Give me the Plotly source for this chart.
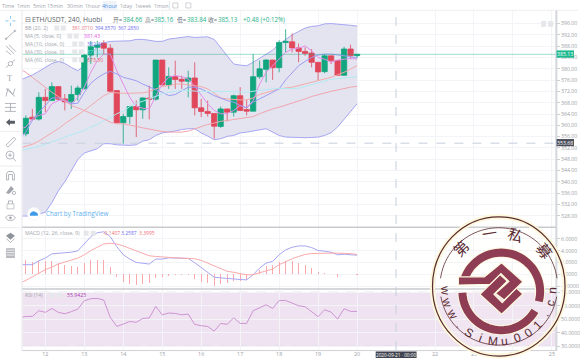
import math
import plotly.graph_objects as go

W, H = 580, 363
# ---------- data (first entry sits just left of the visible pane) ----------
opens = [358.0,357.0,362.9,362.2,369.9,368.75,373.7,369.35,368.3,370.9,372.9,384.85,387.6,388.96,387.3,372.3,360.9,363.1,366.65,365.5,369.6,369.25,383.1,374.3,377.3,376.3,375.6,376.75,366.2,364.9,364.2,359.6,365.8,364.65,370.5,365.6,365.0,377.2,379.8,383.1,380.4,389.3,389.55,387.4,386.15,385.56,382.3,379.0,384.6,382.9,377.7,387.0,384.66]
highs = [359.0,363.5,365.8,371.7,372.9,375.2,373.7,371.1,374.05,374.05,385.2,389.9,389.9,390.1,388.7,372.3,364.1,366.65,368.8,369.9,374.05,383.1,383.1,380.5,382.9,377.6,379.3,382.3,369.35,368.75,364.2,366.65,365.8,370.9,373.5,369.0,385.2,382.9,383.4,383.1,390.1,394.0,392.5,388.96,387.6,387.0,382.3,385.2,384.6,382.9,387.8,388.5,385.16]
lows = [356.0,356.1,361.7,361.7,364.65,368.75,368.75,365.25,365.8,368.75,372.9,381.7,384.0,385.2,371.7,360.9,353.5,360.55,355.85,362.3,362.1,368.75,374.05,372.9,372.9,372.9,369.9,363.5,362.9,363.1,355.25,359.1,361.4,363.1,365.0,363.5,365.0,376.4,375.2,376.05,378.75,385.8,385.8,382.3,384.6,380.5,375.8,378.4,381.7,377.6,377.6,383.4,383.84]
closes = [357.0,362.5,362.2,369.9,368.75,373.7,369.25,368.3,370.9,373.2,384.85,387.8,388.4,387.3,372.05,360.9,363.1,366.65,365.5,369.7,369.25,383.1,374.3,377.3,376.2,375.6,376.75,366.2,364.9,364.2,359.7,365.8,364.65,370.5,365.25,365.0,377.2,380.0,383.1,380.4,389.3,389.7,387.4,386.15,385.44,382.3,378.9,384.6,382.9,377.7,387.0,384.6,385.13]

bb_upper = [375.9,376.9,377.8,379.1,380.5,381.9,382.6,381.9,380.5,379.3,381.1,385.2,387.8,389.2,389.7,389.8,389.9,389.9,390.4,390.4,390.1,389.7,389.7,390.5,390.8,391.1,391.4,391.1,391.3,391.3,390.4,387.6,384.6,381.7,381.3,381.1,382.3,383.8,385.2,386.6,388.7,390.3,392.0,393.2,394.4,395.0,395.2,395.9,396.0,395.8,395.7,395.4,395.1]
bb_lower = [327.9,327.9,327.9,328.6,329.2,332.6,336.8,340.0,343.7,347.9,350.2,350.9,351.7,353.5,353.5,353.1,352.9,352.9,353.1,354.4,354.9,356.4,357.3,357.6,358.0,358.5,358.8,358.8,357.3,356.2,354.9,355.25,356.1,356.4,357.3,357.6,358.1,358.4,358.8,357.6,356.4,355.85,355.7,355.6,355.6,355.7,355.85,356.4,357.4,359.4,362.1,364.65,367.6]
bb_basis = [351.9,352.55,353.3,354.4,355.85,357.25,358.8,360.55,362.1,363.5,365.25,367.0,368.75,370.5,371.6,371.35,371.35,371.35,371.35,371.5,371.95,372.9,373.7,374.05,374.6,374.6,374.4,374.05,373.7,372.9,371.35,369.7,369.35,369.1,369.0,369.0,369.7,370.9,371.7,372.3,372.9,373.1,373.5,374.05,374.6,375.2,375.8,376.4,377.0,377.9,378.75,379.9,381.1]
ma5 = [358.5,359.4,362.3,363.5,364.1,367.6,368.75,369.0,367.6,369.9,373.5,378.75,382.9,385.2,385.2,379.3,374.6,369.9,366.65,366.05,365.8,370.5,374.6,377.0,377.6,377.2,376.4,373.8,370.5,367.6,365.25,364.1,364.1,365.25,367.0,366.2,368.75,374.6,378.75,381.1,383.4,385.8,387.0,387.3,388.1,386.4,384.0,383.4,382.3,383.1,383.4,383.7,383.4]
ma10 = [355.0,357.6,361.7,364.65,367.0,369.7,369.7,368.5,367.6,367.8,371.7,374.9,376.75,378.2,379.1,378.2,377.0,376.4,375.8,374.6,373.5,372.6,371.7,370.5,370.9,372.3,373.5,373.5,372.9,371.7,370.5,369.6,368.75,368.2,367.0,366.2,368.2,369.35,370.5,371.9,372.9,376.05,378.75,381.1,382.6,384.0,384.85,385.2,385.2,385.0,384.6,384.3,383.8]
ma30 = [351.0,351.4,352.0,352.55,353.3,354.1,354.9,355.85,356.65,357.25,358.2,359.4,360.3,361.7,362.65,364.1,365.0,366.65,367.8,368.5,369.35,370.4,371.1,371.7,372.05,372.3,372.3,372.05,371.95,371.95,372.05,372.05,371.95,371.8,371.7,371.7,372.05,372.4,372.6,372.9,373.0,373.0,373.0,373.1,373.8,374.4,375.1,375.8,376.3,376.5,376.75,377.0,377.2]
ma60 = [380.0,378.75,377.0,375.2,373.5,371.7,370.2,368.5,367.0,366.2,365.25,364.3,363.5,362.3,361.1,360.55,360.55,359.95,359.6,359.1,358.65,358.2,357.8,357.6,357.5,357.6,357.95,358.8,359.6,360.3,360.8,361.4,361.7,362.1,362.5,362.9,363.1,364.1,365.0,365.8,366.4,367.1,367.8,368.4,369.35,370.2,370.9,371.5,372.05,372.5,373.1,373.5,373.8]

macd = [1.62,1.62,1.62,2.29,2.74,3.46,3.58,3.58,3.74,3.97,5.25,6.37,7.04,7.21,6.37,4.69,3.30,2.57,2.01,1.90,1.73,2.57,2.57,2.79,2.79,2.79,2.68,1.96,1.17,0.34,-0.50,-0.61,-0.73,-0.84,-0.89,-0.95,-0.06,1.06,1.90,2.18,3.30,4.13,4.58,4.80,4.80,4.53,4.02,3.91,3.74,3.30,3.41,3.30,3.24]
signal = [-1.6,-1.06,-0.45,0.17,0.78,1.23,1.73,2.07,2.35,2.74,3.30,4.02,4.58,5.14,5.25,5.14,4.80,4.41,4.02,3.58,3.13,3.02,2.91,2.85,2.79,2.74,2.74,2.63,2.35,1.90,1.34,0.95,0.50,0.34,0.06,-0.11,-0.06,0.22,0.61,0.89,1.62,2.18,2.63,3.02,3.35,3.52,3.58,3.58,3.58,3.58,3.58,3.52,3.35]
hist = [2.0,2.46,2.07,2.29,2.18,2.23,1.90,1.51,1.34,1.28,1.90,2.35,2.46,2.35,1.17,-0.45,-1.34,-1.73,-1.84,-1.62,-1.51,-0.56,-0.39,-0.22,-0.17,-0.17,-0.17,-0.73,-1.28,-1.56,-1.96,-1.73,-1.56,-1.17,-1.06,-1.0,-0.06,0.78,1.34,1.62,2.07,2.29,2.18,1.90,1.62,1.06,0.39,0.28,0.11,-0.39,0.11,0.06,-0.17]
rsi = [51.0,52.2,52.2,56.4,55.2,58.1,55.2,54.2,55.7,57.6,63.8,65.3,65.5,64.3,51.5,44.8,46.5,48.5,47.8,50.7,51.0,59.6,53.4,54.7,54.4,53.4,53.9,46.3,45.3,44.8,41.3,47.0,46.3,51.2,47.0,47.0,56.4,58.9,60.8,58.1,64.0,64.0,61.8,60.1,59.4,55.7,52.0,57.1,55.4,50.2,57.9,55.9,55.9]

for s in (opens,highs,lows,closes,bb_upper,bb_lower,bb_basis,ma5,ma10,ma30,ma60,macd,signal,hist,rsi):
    assert len(s) == 53, len(s)

times = [20 - (52 - i) / 6 for i in range(53)]
day_ticks = [12,13,14,15,16,17,18,19,20,22,23,24,25]
price_ticks = list(range(328, 397, 4))
macd_ticks = [-2,0,2,4,6]
rsi_ticks = [30,40,50,60,70]
intervals = [("Time",8),("1min",24),("5min",39.6),("15min",55),("30min",75),("1hour",93),("4hour",110),("1day",126),("1week",143),("1mon",162)]
last_close = 385.13
cross_price = 353.68
cross_day = 21

GREEN, RED = "#12a67f", "#e0475a"
GREY = "#a2a5ad"
PANE_L, PANE_R = 22.5, 558.0
FONT = "Open Sans, Noto Sans CJK SC, sans-serif"

def X(p): return p / W
def Y(p): return 1 - p / H

fig = go.Figure()
common = dict(x=times, hoverinfo="skip", showlegend=False)
fig.add_trace(go.Scatter(y=bb_lower, mode="lines", line=dict(color="#a6a6f2", width=1), yaxis="y", **common))
fig.add_trace(go.Scatter(y=bb_upper, mode="lines", line=dict(color="#a6a6f2", width=1), fill="tonexty", fillcolor="#e4e4f1", yaxis="y", **common))
fig.add_trace(go.Candlestick(x=times, open=opens, high=highs, low=lows, close=closes, yaxis="y4", showlegend=False, hoverinfo="skip",
                             whiskerwidth=0,
                             increasing=dict(line=dict(color=GREEN, width=0.8), fillcolor=GREEN),
                             decreasing=dict(line=dict(color=RED, width=0.8), fillcolor=RED)))
for vals, col in ((bb_basis,"#f2a9a9"),(ma5,"#e28ee8"),(ma10,"#9c9cf2"),(ma30,"#b2e9f2"),(ma60,"#f0a5ad")):
    fig.add_trace(go.Scatter(y=vals, mode="lines", line=dict(color=col, width=1), yaxis="y4", **common))

fig.add_trace(go.Bar(x=times, y=hist, width=0.03, marker=dict(color="#f9a9ab", line=dict(width=0)), yaxis="y2", showlegend=False, hoverinfo="skip"))
fig.add_trace(go.Scatter(y=macd, mode="lines", line=dict(color="#a6a6f2", width=1), yaxis="y2", **common))
fig.add_trace(go.Scatter(y=signal, mode="lines", line=dict(color="#f9a9ab", width=1), yaxis="y2", **common))
fig.add_trace(go.Scatter(y=rsi, mode="lines", line=dict(color="#cc93d3", width=1), yaxis="y3", **common))

shapes, ann = [], []
def hline(y0, x0=0, x1=W, col="#cfd0d4", w=1):
    shapes.append(dict(type="line", xref="paper", yref="paper", x0=X(x0), x1=X(x1), y0=Y(y0), y1=Y(y0), line=dict(color=col, width=w), layer="above"))
def vline(x0, y0, y1, col="#cfd0d4", w=1):
    shapes.append(dict(type="line", xref="paper", yref="paper", x0=X(x0), x1=X(x0), y0=Y(y0), y1=Y(y1), line=dict(color=col, width=w), layer="above"))
def poly(pts, col=GREY, w=1, fill=None, closed=False, dash=None):
    d = "M" + " L".join(f"{X(a):.5f} {Y(b):.5f}" for a, b in pts) + (" Z" if closed else "")
    ln = dict(color=col, width=w)
    if w == 0: ln = dict(width=0)
    shapes.append(dict(type="path", xref="paper", yref="paper", path=d, line=ln, fillcolor=fill or "rgba(0,0,0,0)", layer="above"))
def circ(cx, cy, rx, ry=None, col=GREY, w=1, fill=None):
    ry = ry or rx
    shapes.append(dict(type="circle", xref="paper", yref="paper", x0=X(cx-rx), x1=X(cx+rx), y0=Y(cy+ry), y1=Y(cy-ry),
                       line=dict(color=col, width=w), fillcolor=fill or "rgba(0,0,0,0)", layer="above"))
def rect(x0, y0, x1, y1, fill, col=None):
    shapes.append(dict(type="rect", xref="paper", yref="paper", x0=X(x0), x1=X(x1), y0=Y(y1), y1=Y(y0), line=dict(width=0.6 if col else 0, color=col or fill), fillcolor=fill, layer="above"))
def txt(x, y, s, col="#8c9099", size=6, anchor="left", angle=0, font=FONT):
    ann.append(dict(xref="paper", yref="paper", x=X(x), y=Y(y), text=s, showarrow=False, xanchor=anchor, yanchor="middle",
                    font=dict(color=col, size=size, family=font), textangle=angle, borderpad=0))

# RSI band
shapes.append(dict(type="rect", xref="paper", yref="y3", x0=X(PANE_L), x1=X(PANE_R), y0=30, y1=70, line=dict(width=0), fillcolor="#f0e3f1", layer="below"))
for lv in (30, 70):
    shapes.append(dict(type="line", xref="paper", yref="y3", x0=X(PANE_L), x1=X(PANE_R), y0=lv, y1=lv, line=dict(color="#b5a6b9", width=1, dash="dash"), layer="below"))
# price line + crosshair
shapes.append(dict(type="line", xref="paper", yref="y", x0=X(PANE_L), x1=X(PANE_R), y0=last_close, y1=last_close, line=dict(color="rgba(18,166,127,0.40)", width=1), layer="above"))
shapes.append(dict(type="line", xref="paper", yref="y", x0=X(PANE_L), x1=X(PANE_R), y0=cross_price, y1=cross_price, line=dict(color="#c6cfdc", width=1, dash="dash"), layer="above"))
shapes.append(dict(type="line", xref="x", yref="paper", x0=cross_day, x1=cross_day, y0=Y(351), y1=Y(9.5), line=dict(color="#c6cfdc", width=1, dash="dash"), layer="above"))

# frame
hline(9.3, 0, W, "#eeeef1")
hline(227.5, 22, 558, "#c9cace", 1.5)
hline(289.5, 22, 558, "#c9cace", 1.5)
hline(351.5, 22, 558, "#d0d1d5", 1)
vline(558.3, 9.5, 352, "#d5d6dc", 2)
vline(22, 9.5, 352, "#e8e8ec", 1)

# top toolbar
rect(103, 0, 117, 9, "#eef3fa")
for label, px in intervals:
    txt(px, 4.8, label, "#4a90e2" if label == "4hour" else "#a2a5ad", 5.4, "center")
vline(170, 0, 9, "#e6e6ea")
for px in (176, 189):
    rect(px-2.5, 2, px+2.5, 7, "rgba(0,0,0,0)", "#b4b6bc")

# legend rows
txt(24, 18.7, "⊟", "#70747c", 7)
txt(31, 18.7, "ETH/USDT, 240, Huobi", "#5a5f68", 6.8)
for px, lab, val in ((112,"开=","384.66"),(144,"高=","385.16"),(177,"低=","383.84"),(208,"收=","385.13")):
    txt(px, 18.7, lab, "#70747c", 5.8)
    txt(px+10, 18.7, val, "#27b088", 6.2)
txt(243, 18.7, "+0.48 (+0.12%)", "#27b088", 6.2)

rows = [(27.2,"BB (20, 2)",57),(35.2,"MA (5, close, 0)",70),(43.2,"MA (10, close, 0)",75),(51.2,"MA (30, close, 0)",75),(59.2,"MA (60, close, 0)",75)]
for y, lab, bx in rows:
    txt(24, y, lab, "#a2a5ad", 5.2)
    rect(bx-2.5, y-2.5, bx+2.5, y+2.5, "#e6e7ea")
    rect(bx+4, y-2.5, bx+9, y+2.5, "#e6e7ea")
txt(71, 27.2, "381.0710", "#e8767c", 4.9); txt(94, 27.2, "394.8570", "#6c6cf0", 4.9); txt(117, 27.2, "367.2850", "#6c6cf0", 4.9)
txt(83, 35.2, "381.43", "#e65ce8", 5.2)
txt(86, 43.2, "382.40", "#6c6cf0", 5.2)
txt(86, 51.2, "377.20", "#6fe3f0", 5.2)
txt(86, 59.2, "373.50", "#e8606c", 5.2)

# pane legends
txt(24, 233.5, "MACD (12, 26, close, 9)", "#a2a5ad", 5.2)
rect(84, 231, 89, 236, "#e6e7ea"); rect(91, 231, 96, 236, "#e6e7ea")
txt(102, 233.5, "-0.1407", "#f07075", 5.0); txt(120, 233.5, "3.2587", "#6c6cf0", 5.0); txt(138, 233.5, "3.3995", "#f07075", 5.0)
txt(24, 296, "RSI (14)", "#a2a5ad", 5.2)
rect(50, 293.5, 55, 298.5, "#e6e7ea"); rect(57, 293.5, 62, 298.5, "#e6e7ea")
txt(66, 296, "55.9425", "#a83cb0", 5.2)
rect(543, 20, 548, 26, "#e6e7ea"); rect(550, 20, 555, 26, "#e6e7ea")

# attribution
circ(34, 214, 6.5, col="#eeeeee", w=0.5, fill="#ffffff")
poly([(30,216),(30,214),(32,212),(34,211.5),(36,212.5),(38,214),(38,216)], w=0, fill="#3d9be9", closed=True)
txt(45, 214, "Chart by TradingView", "#66b3f0", 6.3)

# axis tags
rect(558.5, 49.7, 576, 57, "#19b88e")
txt(567, 53.4, "385.13", "#ffffff", 5.2, "center")
rect(558.5, 138.8, 576, 146, "#4b4f5c")
txt(567, 142.4, "353.68", "#ffffff", 5.2, "center")
rect(377, 352.5, 418, 359, "#3f4350")
txt(397.5, 355.8, "2020-09-21 · 00:00", "#ffffff", 4.7, "center")

# left toolbar icons (x centre 10.5)
c = "#a2a5ad"
cx = 10.5
for a, b in (((-5,0),(-2,0)),((2,0),(5,0)),((0,-5),(0,-2)),((0,2),(0,5))):
    poly([(cx+a[0],20+a[1]),(cx+b[0],20+b[1])], "#6db8ee", 0.8)
poly([(6,38),(15,30)], c, 0.8); circ(6,38,0.8,col=c,w=0.8); circ(15,30,0.8,col=c,w=0.8)
poly([(6,45),(14,53)], c, 0.8); poly([(9,44),(16,51)], c, 0.8); poly([(6,50),(11,54)], c, 0.8)
poly([(6,67),(15,59)], c, 0.8); circ(10.5,63,2.2,col=c,w=0.8,fill="#ffffff")
txt(10.5, 77, "T", c, 8.5, "center", font="Liberation Serif")
poly([(6,96),(8,88),(13,94),(15,88)], c, 0.8); poly([(6,88),(15,96)], c, 0.8)
poly([(5,103),(16,103)], c, 0.8); poly([(5,107),(16,107)], c, 0.8); poly([(5,111),(16,111)], c, 0.8); poly([(10.5,103),(10.5,111)], c, 0.8)
poly([(6,122),(10,118.5),(10,120.5),(15,120.5),(15,123.5),(10,123.5),(10,125.5)], w=0, fill="#5a5e66", closed=True)
hline(131, 0, 21, "#ececf0")
poly([(6,145),(14,137),(16,139),(8,147)], c, 0.8, closed=True)
circ(10,155,4,col=c,w=0.8); poly([(13,158),(16,161)], c, 0.8); poly([(8,155),(12,155)], c, 0.8); poly([(10,153),(10,157)], c, 0.8)
hline(166, 0, 21, "#ececf0")
poly([(6.5,180),(6.5,174),(8,171.5),(13,171.5),(14.5,174),(14.5,180),(12.5,180),(12.5,174.5),(8.5,174.5),(8.5,180)], c, 0.8, closed=True)
poly([(6,193),(11,186),(14,189),(9,194)], w=0, fill=c, closed=True); circ(14,193,1.6,col=c,w=0.8)
rect(7, 204, 14, 209, "rgba(0,0,0,0)", c); poly([(8.5,204),(8.5,201),(12.5,201),(12.5,204)], c, 0.8)
poly([(5.5,218),(8,215.5),(13,215.5),(15.5,218),(13,220.5),(8,220.5)], c, 0.8, closed=True); circ(10.5,218,1.1,col=c,w=0.5,fill=c)
hline(228, 0, 21, "#ececf0")
poly([(6,236),(10.5,233),(15,236),(10.5,240)], w=0, fill="#8f939b", closed=True); poly([(6.5,239),(10.5,243),(14.5,239)], c, 0.8)
rect(6.5, 249, 14.5, 258, "#b9bbc1", "#a2a5ad")
hline(250.5, 6.5, 14.5, "#ffffff", 0.7); hline(253, 6.5, 14.5, "#ffffff", 0.7); hline(255.5, 6.5, 14.5, "#ffffff", 0.7)

# --------- seal watermark ---------
SX, SY = 500.5, 287.0
INK, MAROON, CREAM = "#5a2a30", "#8f3d55", "#fdf8dc"
circ(SX, SY, 66.5, 70, CREAM, 5, "rgba(255,253,240,0.08)")
circ(SX, SY, 66.5, 70, INK, 1.2)
def z8(a, b): return (380 + a / 3, 220 + b / 3)
def arc(cx, cy, r, a0, a1, n=48):
    return [(cx + r * math.cos(math.radians(a0 + (a1 - a0) * i / n)), cy + r * math.sin(math.radians(a0 + (a1 - a0) * i / n))) for i in range(n + 1)]
poly(arc(SX, SY, 59, -172, -8), INK, 0.8)
poly(arc(SX, SY, 59, 10, 170), INK, 0.8)
LX, LY = 503.0, 292.0
poly(arc(LX, LY, 39, -165, 15), CREAM, 10)
poly(arc(LX, LY, 39, 30, 178), CREAM, 10)
poly(arc(LX, LY, 39, -165, 15), MAROON, 8)
poly(arc(LX, LY, 39, 30, 178), MAROON, 8)
polyA = [(240,172),(318,172),(370,130),(434,187),(378,242),(352,222),(392,186),(368,162),(335,195),(240,197)]
polyB = [(305,225),(365,165),(387,185),(347,225),(372,250),(414,205),(434,224),(370,285)]
poly([z8(*p) for p in polyB], CREAM, 1.2, MAROON, True)
poly([z8(*p) for p in polyA], CREAM, 1.2, MAROON, True)
for ch, dx, dy, ang in (("第",-38,-39,-44),("一",-9,-54,-9),("私",17,-52,18),("募",46,-36,52)):
    txt(SX+dx, SY+dy, ch, INK, 15, "center", ang, "Noto Sans CJK SC")
word = "www.SiMu001.cn"
for i, ch in enumerate(word):
    th = -86 + i * 172 / (len(word) - 1)
    r = 54
    txt(SX + r * math.sin(math.radians(th)), SY + r * 1.03 * math.cos(math.radians(th)), ch, INK, 12, "center", -th, "Liberation Sans")

grid = "#f3f4f8"
tick = dict(tickfont=dict(size=5.2, color="#9a9ea6", family=FONT), ticks="outside", ticklen=3, tickcolor="#cfd0d5", tickwidth=1,
            showline=False, zeroline=False, showgrid=True, gridcolor=grid, gridwidth=1, side="right", anchor="free", position=X(PANE_R))
fmt2 = [f"{v:.2f}" for v in price_ticks]
fig.update_layout(
    width=W, height=H, autosize=False, margin=dict(l=0, r=0, t=0, b=0),
    paper_bgcolor="#ffffff", plot_bgcolor="#ffffff", showlegend=False, dragmode=False, bargap=0,
    boxgap=0.1, boxgroupgap=0.1, font=dict(family=FONT), shapes=shapes, annotations=ann,
    xaxis=dict(domain=[X(PANE_L), X(PANE_R)], range=[11.412, 25.107], anchor="y3", tickvals=day_ticks, ticktext=[str(d) for d in day_ticks],
               tickfont=dict(size=5.4, color="#9a9ea6", family=FONT), showgrid=True, gridcolor=grid, zeroline=False, ticks="", ticklen=0,
               rangeslider=dict(visible=False), showline=False),
    yaxis=dict(domain=[Y(227.3), Y(9.5)], range=[324.0, 400.65], tickvals=price_ticks, ticktext=fmt2, **tick),
    yaxis4=dict(overlaying="y", matches="y", visible=False, side="right"),
    yaxis2=dict(domain=[Y(289.3), Y(227.7)], range=[-2.45, 7.94], tickvals=macd_ticks, ticktext=[f"{v:.4f}" for v in macd_ticks], **tick),
    yaxis3=dict(domain=[Y(351), Y(289.7)], range=[27.3, 72.4], tickvals=rsi_ticks, ticktext=[f"{v:.4f}" for v in rsi_ticks], **tick),
)
fig.write_html("out.html", config=dict(displayModeBar=False, staticPlot=True), post_script="document.body.style.margin='0';document.body.style.overflow='hidden';")
